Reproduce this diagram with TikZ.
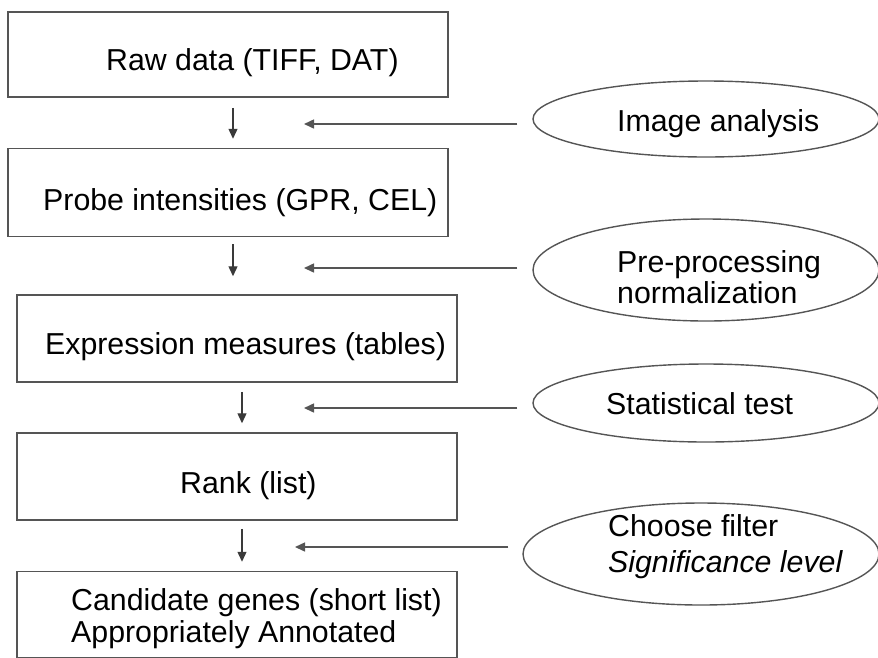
\documentclass[tikz,border=0pt]{standalone}
\usepackage{fontspec}
\setmainfont{Liberation Sans}
\usetikzlibrary{arrows.meta,shapes.geometric}
\definecolor{edge}{HTML}{555555}
\definecolor{wire}{HTML}{3A3A3A}
\begin{document}
\begin{tikzpicture}[x=1pt,y=-1pt,
  stage/.style={draw=edge,line width=1.5pt,rectangle,inner sep=0pt,
                minimum width=440pt},
  task/.style={draw=edge,line width=1.4pt,ellipse,inner sep=0pt},
  lbl/.style={anchor=base west,inner sep=0pt,align=left,
              font=\fontsize{30.3}{33}\selectfont},
  flow/.style={draw=wire,line width=1.3pt,
               -{Triangle[length=10pt,width=9pt]}},
  feed/.style={draw=edge,line width=1.5pt,
               -{Triangle[length=10pt,width=9pt]}}]
\useasboundingbox (0,0) rectangle (878,657);

% pipeline stages
\node[stage,minimum height=85pt] (b1) at (228,54.5) {};
\node[stage,minimum height=88pt] (b2) at (228,192.5) {};
\node[stage,minimum height=87pt] (b3) at (237,338.5) {};
\node[stage,minimum height=87pt] (b4) at (237,476.5) {};
\node[stage,minimum height=86pt] (b5) at (237,614.5) {};

% stage labels (multi-line labels are placed by their last baseline)
\node[lbl] (t1) at (106,70.7) {Raw data (TIFF, DAT)};
\node[lbl] (t2) at (43,210) {Probe intensities (GPR, CEL)};
\node[lbl] (t3) at (45,354) {Expression measures (tables)};
\node[lbl] (t4) at (180,493) {Rank (list)};
\node[lbl] (t5) at (71,642) {Candidate genes (short list)\\[-1pt]Appropriately Annotated};

% processing steps
\node[task,minimum width=346pt,minimum height=76pt] (e1) at (706,119) {};
\node[task,minimum width=346pt,minimum height=102pt] (e2) at (706,270) {};
\node[task,minimum width=346pt,minimum height=78pt] (e3) at (706,403) {};
\node[task,minimum width=356pt,minimum height=102pt] (e4) at (701,554) {};

\node[lbl] (s1) at (617,131) {Image analysis};
\node[lbl] (s2) at (617,303) {Pre-processing\\[-2pt]normalization};
\node[lbl] (s3) at (606,414) {Statistical test};
\node[lbl] (s4) at (608,572) {Choose filter\\[3pt]\textit{Significance level}};

% flow between stages
\draw[flow,shorten <=10pt,shorten >=9pt] ([xshift=5pt]b1.south) -- ([xshift=5pt]b2.north);
\draw[flow,shorten <=7pt,shorten >=18pt] ([xshift=5pt]b2.south) -- ([xshift=-4pt]b3.north);
\draw[flow,shorten <=9pt,shorten >=9pt] ([xshift=5pt]b3.south) -- ([xshift=5pt]b4.north);
\draw[flow,shorten <=8pt,shorten >=9pt] ([xshift=5pt]b4.south) -- ([xshift=5pt]b5.north);

% steps feeding into the flow
\coordinate (p1) at (304,124);
\coordinate (p2) at (304,268);
\coordinate (p3) at (304,408);
\coordinate (p4) at (295,547);
\draw[feed,shorten <=15pt] (e1.west |- p1) -- (p1);
\draw[feed,shorten <=15pt] (e2.west |- p2) -- (p2);
\draw[feed,shorten <=15pt] (e3.west |- p3) -- (p3);
\draw[feed,shorten <=14pt] (e4.west |- p4) -- (p4);
\end{tikzpicture}
\end{document}
